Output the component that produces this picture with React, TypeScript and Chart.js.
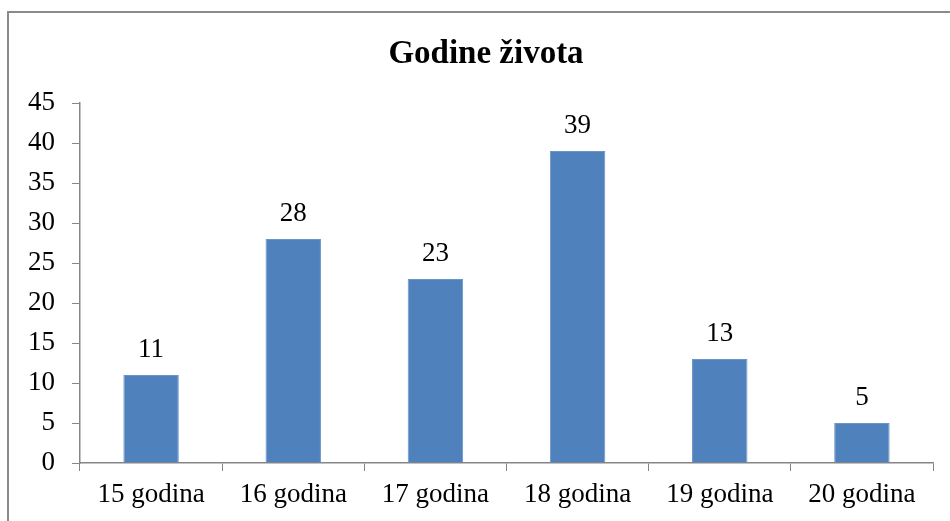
import React, { useEffect, useRef } from "react";
import { Chart, registerables } from "chart.js";

Chart.register(...registerables);

const categories = ["15 godina", "16 godina", "17 godina", "18 godina", "19 godina", "20 godina"];
const values = [11, 28, 23, 39, 13, 5];
const titleText = "Godine života";
const yMin = 0;
const yMax = 45;
const yStep = 5;

const FONT = "'Liberation Serif', serif";

const framePlugin = {
  id: "frame",
  beforeDraw(chart: any) {
    const ctx = chart.ctx;
    ctx.save();
    ctx.fillStyle = "#ffffff";
    ctx.fillRect(0, 0, chart.width, chart.height);
    ctx.strokeStyle = "#8a8a8a";
    ctx.lineWidth = 2;
    ctx.beginPath();
    ctx.moveTo(8, chart.height + 5);
    ctx.lineTo(8, 12);
    ctx.lineTo(chart.width + 5, 12);
    ctx.stroke();
    ctx.fillStyle = "#000000";
    ctx.font = `bold 33px ${FONT}`;
    ctx.textAlign = "center";
    ctx.textBaseline = "alphabetic";
    ctx.fillText(titleText, 486, 63);
    ctx.restore();
  },
  afterDatasetsDraw(chart: any) {
    const ctx = chart.ctx;
    const meta = chart.getDatasetMeta(0);
    ctx.save();
    ctx.fillStyle = "#000000";
    ctx.font = `27px ${FONT}`;
    ctx.textAlign = "center";
    ctx.textBaseline = "alphabetic";
    meta.data.forEach((bar: any, i: number) => {
      ctx.fillText(String(chart.data.datasets[0].data[i]), bar.x, bar.y - 18);
    });
    ctx.restore();
  },
};

export default function App() {
  const ref = useRef<HTMLCanvasElement | null>(null);
  useEffect(() => {
    document.body.style.margin = "0";
    const chart = new Chart(ref.current as HTMLCanvasElement, {
      type: "bar",
      data: {
        labels: categories,
        datasets: [
          {
            data: values,
            backgroundColor: "#4F81BD",
            borderColor: "#6b95c9",
            borderWidth: 1,
            barPercentage: 0.39,
            categoryPercentage: 1,
          },
        ],
      },
      options: {
        animation: false,
        responsive: false,
        maintainAspectRatio: false,
        layout: { padding: { top: 103, right: 17, bottom: 0, left: 0 } },
        plugins: {
          legend: { display: false },
          title: { display: false },
          tooltip: { enabled: false },
        },
        scales: {
          x: {
            grid: {
              offset: true,
              drawOnChartArea: false,
              tickLength: 8,
              color: "#868686",
            },
            border: { color: "#868686", width: 1.5 },
            ticks: {
              color: "#000000",
              font: { family: FONT, size: 27 },
              padding: 8,
              maxRotation: 0,
            },
            afterFit(scale: any) {
              scale.height = 58;
            },
          },
          y: {
            min: yMin,
            max: yMax,
            grid: {
              drawOnChartArea: false,
              tickLength: 8,
              color: "#868686",
            },
            border: { color: "#868686", width: 1.5 },
            ticks: {
              stepSize: yStep,
              color: "#000000",
              font: { family: FONT, size: 27 },
              padding: 17,
            },
            afterFit(scale: any) {
              scale.width = 80;
            },
          },
        },
      },
      plugins: [framePlugin],
    });
    return () => chart.destroy();
  }, []);
  return (
    <div style={{ width: 950, height: 521 }}>
      <canvas ref={ref} width={950} height={521} style={{ display: "block", width: 950, height: 521 }} />
    </div>
  );
}
